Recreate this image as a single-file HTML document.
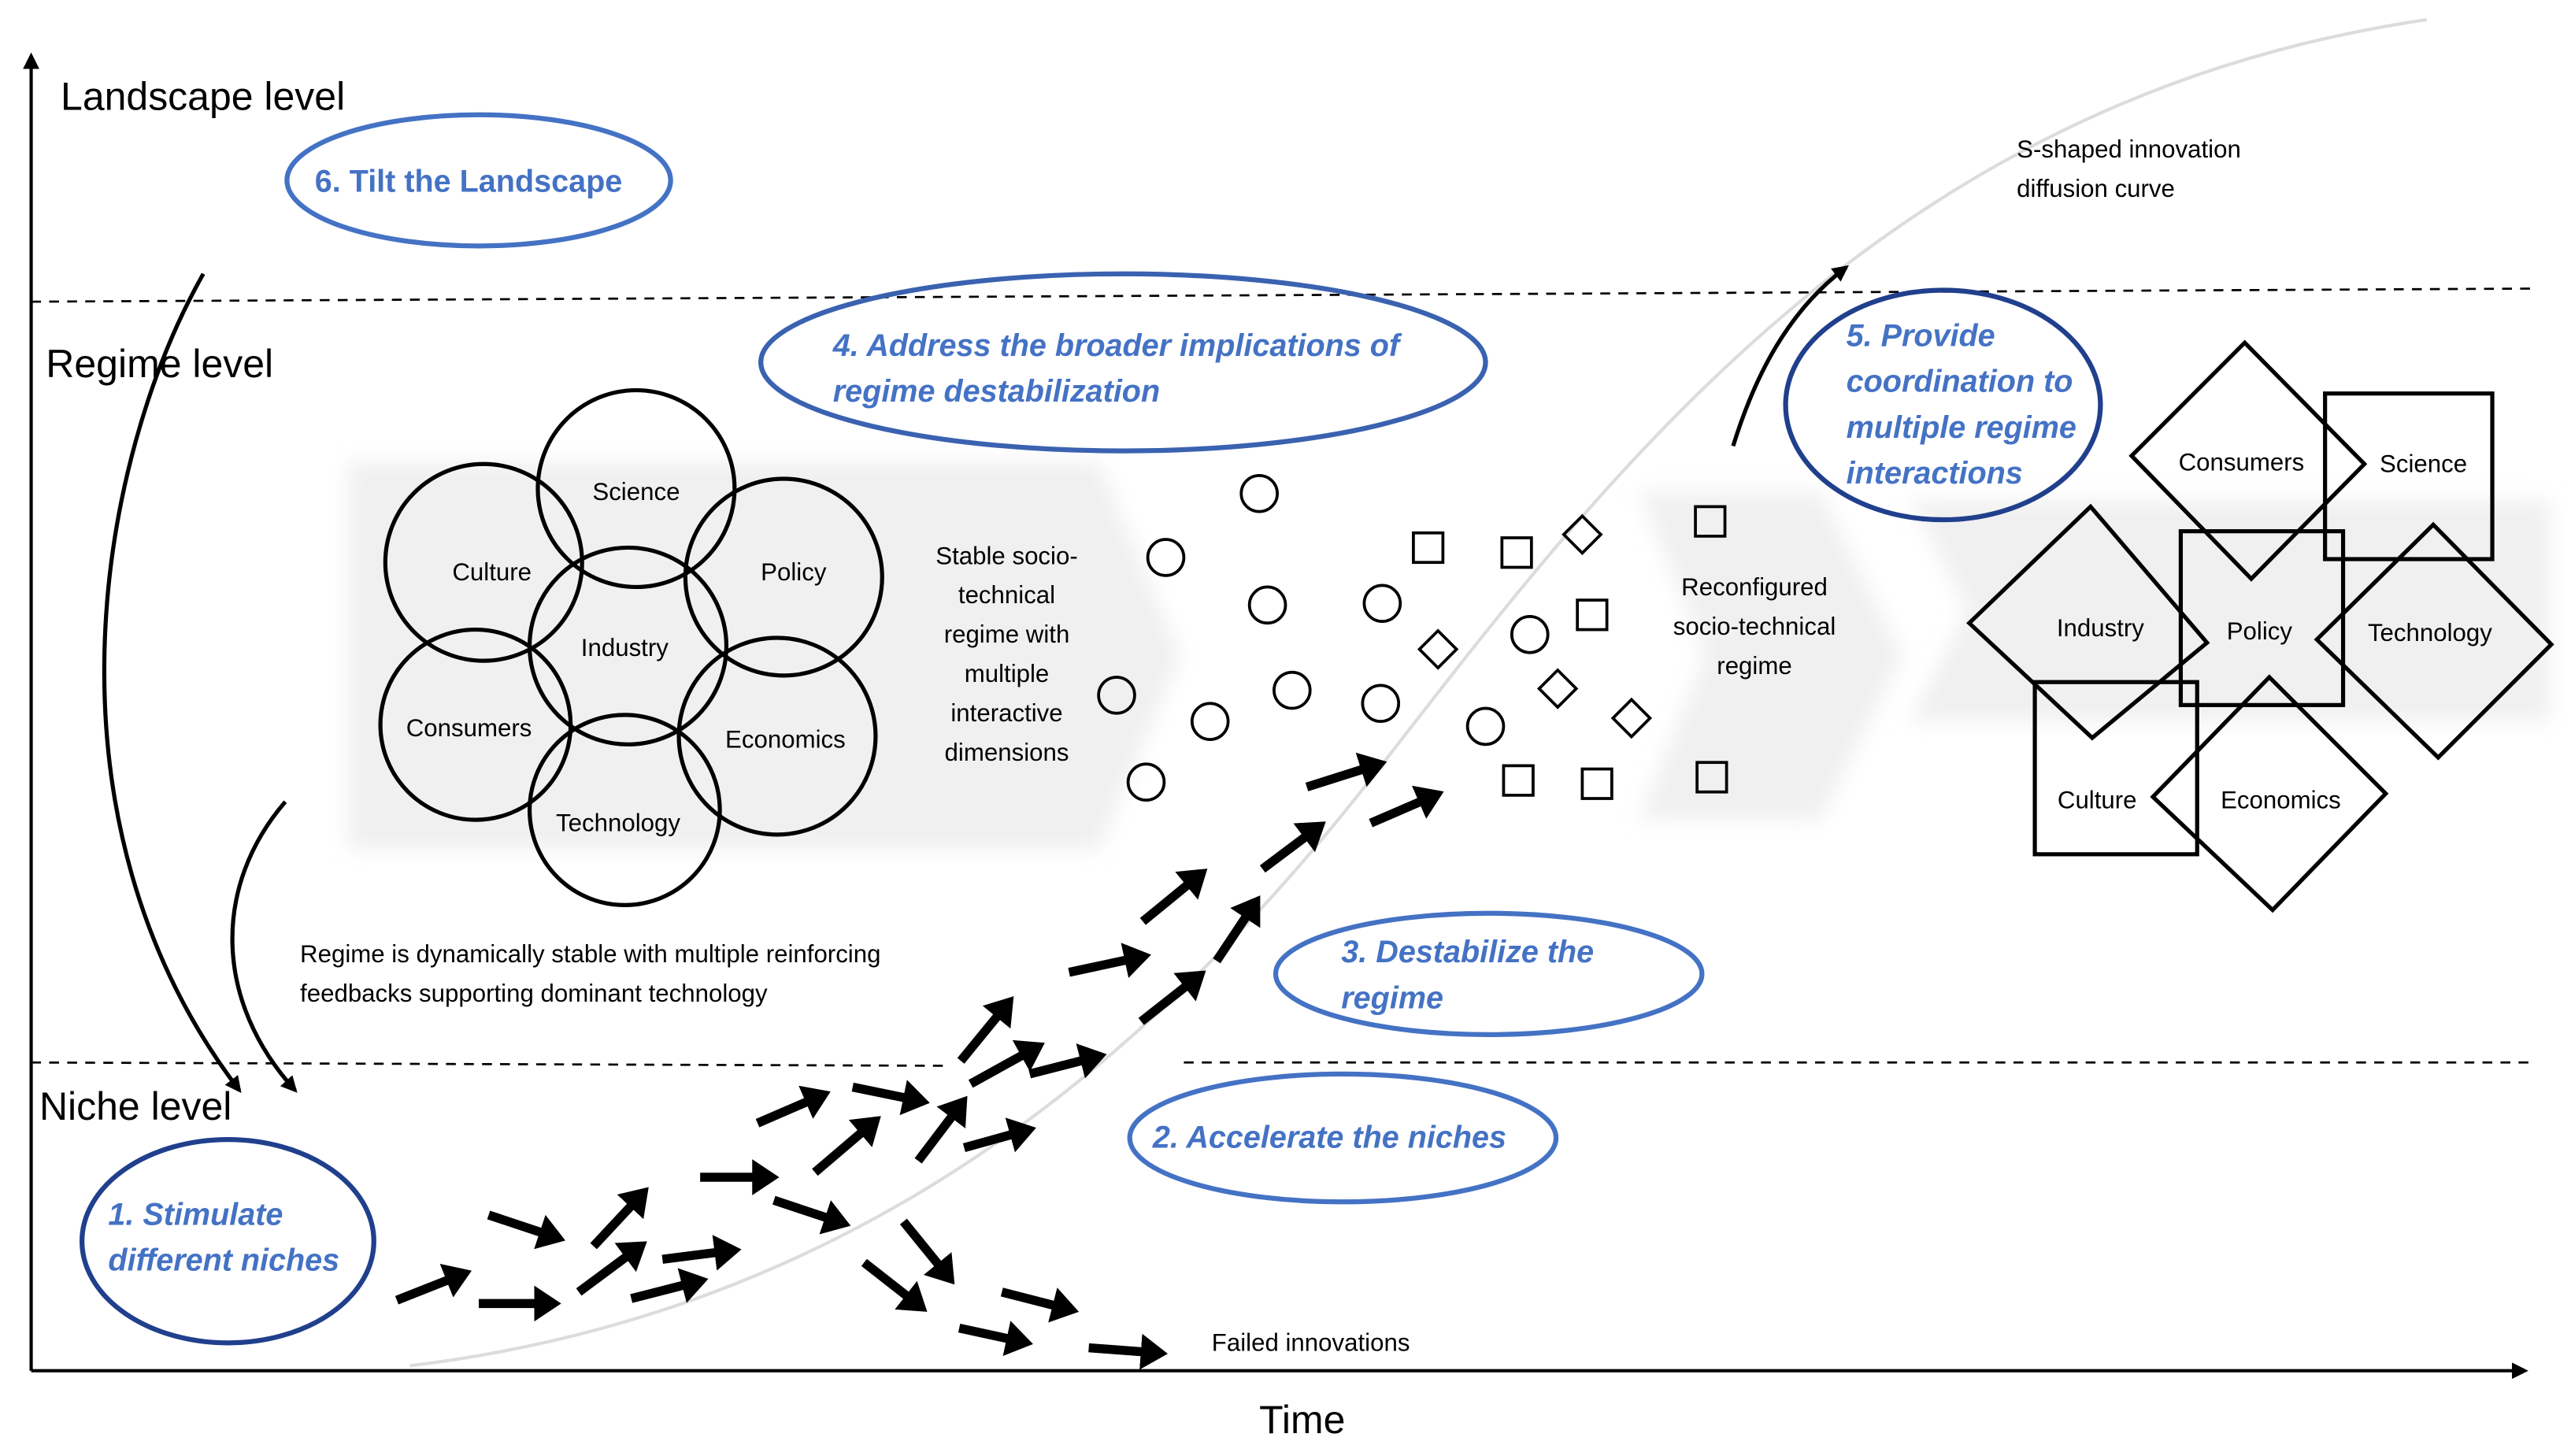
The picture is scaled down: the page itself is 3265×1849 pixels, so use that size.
<!DOCTYPE html>
<html><head><meta charset="utf-8"><style>
html,body{margin:0;padding:0;background:#fff;}
svg{display:block;}
text{font-family:"Liberation Sans",sans-serif;}
.b{fill:#4472C4;font-weight:bold;font-style:italic;font-size:19px;}
.l{font-size:24px;fill:#000;}
.s{font-size:15px;fill:#000;}
</style></head><body>
<svg width="3265" height="1849" viewBox="0 0 1568 888" preserveAspectRatio="none" xmlns="http://www.w3.org/2000/svg">
<defs>
<marker id="ah" markerWidth="4" markerHeight="4" refX="1.5" refY="2" orient="auto" markerUnits="strokeWidth"><path d="M0,0 L3,2 L0,4 z" fill="#000"/></marker>
<marker id="thin" markerWidth="10" markerHeight="10" refX="8" refY="5" orient="auto" markerUnits="userSpaceOnUse"><path d="M0,0 L10,5 L0,10 z" fill="#000"/></marker>
<filter id="bl"><feGaussianBlur stdDeviation="6"/></filter>
</defs>
<!-- gray bands -->
<g fill="#f0f0f0" filter="url(#bl)">
<path d="M212,282 L670,282 L720,400 L670,518 L212,518 Z"/>
<path d="M1000,300 L1110,300 L1160,400 L1110,500 L1000,500 L1040,400 Z"/>
<path d="M1165,305 L1555,305 L1555,440 L1165,440 L1200,372 Z"/>
</g>
<!-- S-curve -->
<path d="M250,833 C520,800 700,650 840,470 C980,290 1150,60 1480,12" fill="none" stroke="#dcdcdc" stroke-width="2"/>
<!-- axes -->
<line x1="19" y1="836" x2="19" y2="34" stroke="#000" stroke-width="2" marker-end="url(#thin)"/>
<line x1="19" y1="836" x2="1540" y2="836" stroke="#000" stroke-width="2" marker-end="url(#thin)"/>
<!-- dashed -->
<g stroke="#000" stroke-width="1.3" stroke-dasharray="6,5">
<line x1="19" y1="184" x2="1545" y2="176"/>
<line x1="19" y1="648" x2="575" y2="650"/>
<line x1="722" y1="648" x2="1545" y2="648"/>
</g>
<text class="l" x="37" y="67">Landscape level</text>
<text class="l" x="28" y="230">Regime level</text>
<text class="l" x="24" y="683">Niche level</text>
<text class="l" x="768" y="874">Time</text>
<!-- curved arrows -->
<path d="M124,167 C60,280 20,500 146,665" fill="none" stroke="#000" stroke-width="2.5" marker-end="url(#thin)"/>
<path d="M174,489 C130,540 130,610 180,665" fill="none" stroke="#000" stroke-width="2.5" marker-end="url(#thin)"/>
<path d="M1057,272 C1070,230 1090,190 1126,163" fill="none" stroke="#000" stroke-width="2.5" marker-end="url(#thin)"/>
<!-- venn -->
<g fill="none" stroke="#000" stroke-width="2.5">
<circle cx="388" cy="298" r="60"/><circle cx="295" cy="343" r="60"/><circle cx="478" cy="352" r="60"/>
<circle cx="383" cy="394" r="60"/><circle cx="290" cy="442" r="58"/><circle cx="474" cy="449" r="60"/>
<circle cx="381" cy="494" r="58"/>
</g>
<g class="s" text-anchor="middle">
<text x="388" y="305">Science</text><text x="300" y="354">Culture</text><text x="484" y="354">Policy</text>
<text x="381" y="400">Industry</text><text x="286" y="449">Consumers</text><text x="479" y="456">Economics</text>
<text x="377" y="507">Technology</text>
<text x="614" y="344">Stable socio-</text><text x="614" y="368">technical</text><text x="614" y="392">regime with</text>
<text x="614" y="416">multiple</text><text x="614" y="440">interactive</text><text x="614" y="464">dimensions</text>
<text x="1070" y="363">Reconfigured</text><text x="1070" y="387">socio-technical</text><text x="1070" y="411">regime</text>
</g>
<text class="s" x="1230" y="96">S-shaped innovation</text>
<text class="s" x="1230" y="120">diffusion curve</text>
<text class="s" x="183" y="587">Regime is dynamically stable with multiple reinforcing</text>
<text class="s" x="183" y="611">feedbacks supporting dominant technology</text>
<text class="s" x="739" y="824">Failed innovations</text>
<!-- small shapes -->
<g fill="none" stroke="#000" stroke-width="1.8">
<circle cx="768" cy="301" r="11"/><circle cx="711" cy="340" r="11"/><circle cx="773" cy="369" r="11"/>
<circle cx="843" cy="368" r="11"/><circle cx="681" cy="424" r="11"/><circle cx="738" cy="440" r="11"/>
<circle cx="788" cy="421" r="11"/><circle cx="842" cy="429" r="11"/><circle cx="699" cy="477" r="11"/>
<circle cx="933" cy="387" r="11"/><circle cx="906" cy="443" r="11"/>
<rect x="862" y="325" width="18" height="18"/><rect x="916" y="328" width="18" height="18"/>
<rect x="1034" y="309" width="18" height="18"/><rect x="962" y="366" width="18" height="18"/>
<rect x="917" y="467" width="18" height="18"/><rect x="965" y="469" width="18" height="18"/>
<rect x="1035" y="465" width="18" height="18"/>
<rect x="957" y="318" width="16" height="16" transform="rotate(45 965 326)"/>
<rect x="869" y="388" width="16" height="16" transform="rotate(45 877 396)"/>
<rect x="942" y="412" width="16" height="16" transform="rotate(45 950 420)"/>
<rect x="987" y="430" width="16" height="16" transform="rotate(45 995 438)"/>
</g>
<!-- right cluster -->
<g fill="none" stroke="#000" stroke-width="2.5">
<polygon points="1369,209 1442,283 1373,353 1300,278"/>
<rect x="1418" y="240" width="102" height="101"/>
<polygon points="1275,309 1346,392 1276,450 1201,380"/>
<rect x="1330" y="324" width="99" height="106"/>
<polygon points="1484,320 1556,393 1487,462 1413,390"/>
<rect x="1241" y="416" width="99" height="105"/>
<polygon points="1384,413 1455,484 1386,555 1313,486"/>
</g>
<g class="s" text-anchor="middle">
<text x="1367" y="287">Consumers</text><text x="1478" y="288">Science</text><text x="1281" y="388">Industry</text>
<text x="1378" y="390">Policy</text><text x="1482" y="391">Technology</text><text x="1279" y="493">Culture</text>
<text x="1391" y="493">Economics</text>
</g>
<!-- blue ellipses -->
<g fill="none" stroke-width="3">
<ellipse cx="292" cy="110" rx="117" ry="40" stroke="#4472C4"/>
<ellipse cx="685" cy="221" rx="221" ry="54" stroke="#3A62B0"/>
<ellipse cx="1185" cy="247" rx="96" ry="70" stroke="#203F8C"/>
<ellipse cx="908" cy="594" rx="130" ry="37" stroke="#4472C4"/>
<ellipse cx="819" cy="694" rx="130" ry="39" stroke="#4472C4"/>
<ellipse cx="139" cy="757" rx="89" ry="62" stroke="#203F8C"/>
</g>
<text class="b" x="192" y="117" style="font-style:normal">6. Tilt the Landscape</text>
<text class="b" x="508" y="217">4. Address the broader implications of</text>
<text class="b" x="508" y="245">regime destabilization</text>
<text class="b" x="1126" y="211">5. Provide</text>
<text class="b" x="1126" y="239">coordination to</text>
<text class="b" x="1126" y="267">multiple regime</text>
<text class="b" x="1126" y="295">interactions</text>
<text class="b" x="818" y="587">3. Destabilize the</text>
<text class="b" x="818" y="615">regime</text>
<text class="b" x="703" y="700">2. Accelerate the niches</text>
<text class="b" x="66" y="747">1. Stimulate</text>
<text class="b" x="66" y="775">different niches</text>
<!-- thick arrows -->
<g stroke="#000" stroke-width="5.5" marker-end="url(#ah)" fill="none">
<line x1="242" y1="793" x2="280" y2="778"/><line x1="292" y1="795" x2="334" y2="795"/>
<line x1="298" y1="741" x2="337" y2="754"/><line x1="362" y1="760" x2="390" y2="730"/>
<line x1="353" y1="788" x2="388" y2="762"/><line x1="385" y1="792" x2="424" y2="782"/>
<line x1="404" y1="768" x2="444" y2="763"/><line x1="427" y1="718" x2="467" y2="718"/>
<line x1="462" y1="685" x2="499" y2="669"/><line x1="472" y1="732" x2="511" y2="745"/>
<line x1="497" y1="715" x2="531" y2="686"/><line x1="520" y1="663" x2="559" y2="671"/>
<line x1="527" y1="770" x2="559" y2="795"/><line x1="551" y1="745" x2="577" y2="777"/>
<line x1="585" y1="810" x2="622" y2="818"/><line x1="611" y1="788" x2="650" y2="798"/>
<line x1="664" y1="822" x2="704" y2="825"/><line x1="560" y1="708" x2="585" y2="675"/>
<line x1="586" y1="647" x2="613" y2="614"/><line x1="592" y1="661" x2="630" y2="640"/>
<line x1="588" y1="700" x2="624" y2="690"/><line x1="628" y1="655" x2="667" y2="645"/>
<line x1="652" y1="593" x2="694" y2="584"/><line x1="696" y1="623" x2="729" y2="597"/>
<line x1="697" y1="562" x2="730" y2="535"/><line x1="742" y1="586" x2="764" y2="553"/>
<line x1="770" y1="530" x2="802" y2="506"/><line x1="797" y1="480" x2="838" y2="467"/>
<line x1="836" y1="502" x2="873" y2="486"/>
</g>
</svg>
</body></html>
